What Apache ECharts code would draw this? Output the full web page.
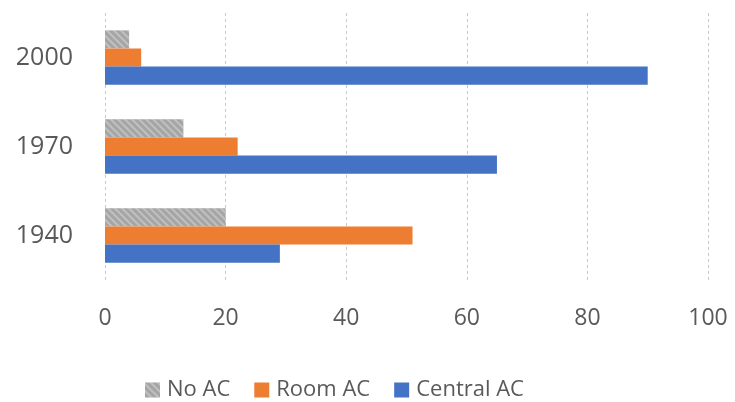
<!DOCTYPE html>
<html><head><meta charset="utf-8">
<script src="https://cdn.jsdelivr.net/npm/echarts@6/dist/echarts.min.js"></script>
<style>html,body{margin:0;padding:0;background:#fff}#c{width:735px;height:402px}</style>
</head><body><div id="c"></div>
<script>
const categories = ['1940', '1970', '2000'];
const noAC = [20, 13, 4];
const roomAC = [51, 22, 6];
const centralAC = [29, 65, 90];
const xTicks = [0, 20, 40, 60, 80, 100];

const chart = echarts.init(document.getElementById('c'));
const font = 'Open Sans';
chart.setOption({
  animation: false,
  grid: { left: 105, right: 27, top: 13, bottom: 122 },
  xAxis: {
    type: 'value', min: xTicks[0], max: xTicks[xTicks.length - 1], interval: 20,
    axisLine: { show: false }, axisTick: { show: false },
    splitLine: { show: true, lineStyle: { type: [3, 3], color: '#c8c8c8', width: 1 } },
    axisLabel: { color: '#595959', fontSize: 23, fontFamily: font, margin: 27 }
  },
  yAxis: {
    type: 'category', data: categories,
    axisLine: { show: false }, axisTick: { show: false },
    axisLabel: { color: '#595959', fontSize: 25, fontFamily: font, margin: 32 }
  },
  legend: {
    data: ['No AC', 'Room AC', 'Central AC'],
    top: 374, left: 140, itemWidth: 15, itemHeight: 15, itemGap: 24,
    icon: 'rect',
    textStyle: { color: '#595959', fontSize: 22, fontFamily: font, padding: [0, 0, 0, 2] }
  },
  series: [
    { name: 'No AC', type: 'bar', data: noAC, barGap: '0%', barCategoryGap: '39%',
      itemStyle: { color: '#A5A5A5',
        decal: { symbol: 'rect', symbolSize: 1, dashArrayX: [1, 0], dashArrayY: [2, 3], rotation: Math.PI / 4, color: 'rgba(255,255,255,0.3)' } } },
    { name: 'Room AC', type: 'bar', data: roomAC, barGap: '0%', barCategoryGap: '39%',
      itemStyle: { color: '#ED7D31' } },
    { name: 'Central AC', type: 'bar', data: centralAC, barGap: '0%', barCategoryGap: '39%',
      itemStyle: { color: '#4472C4' } }
  ]
});
</script></body></html>
